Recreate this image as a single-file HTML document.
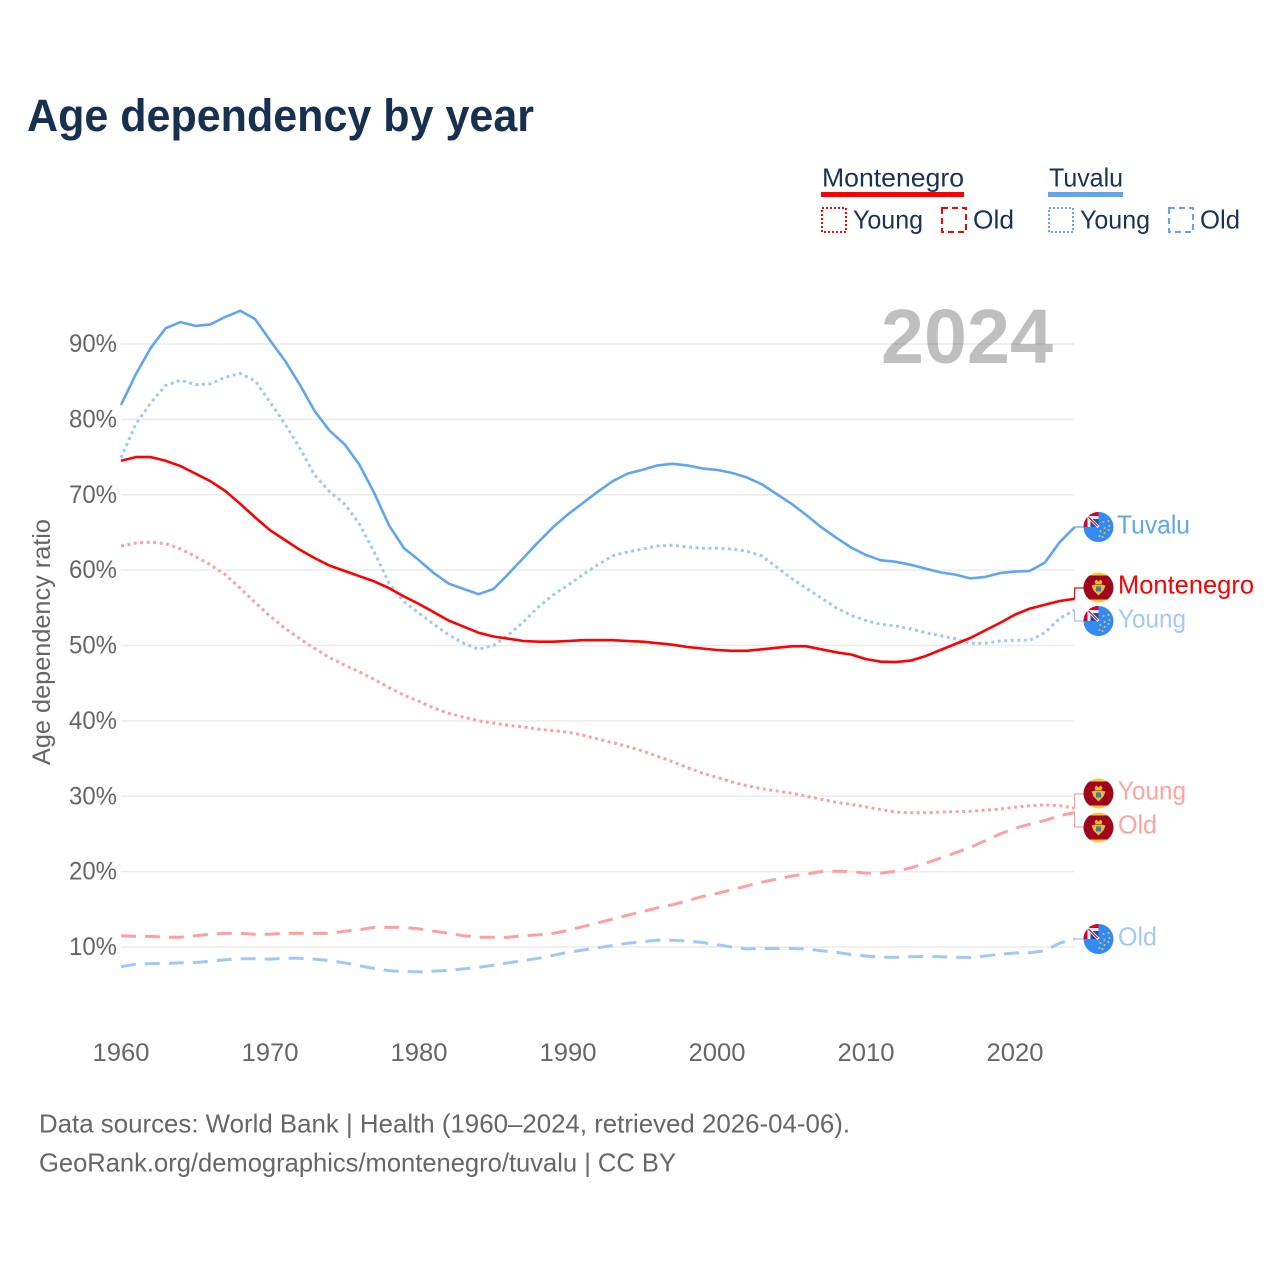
<!DOCTYPE html>
<html lang="en">
<head>
<meta charset="utf-8">
<title>Age dependency by year</title>
<style>
html,body{margin:0;padding:0;background:#fff}
svg{display:block}
text{font-family:"Liberation Sans",sans-serif}
</style>
</head>
<body>
<svg id="chart" xmlns="http://www.w3.org/2000/svg" width="1280" height="1280" viewBox="0 0 1280 1280">
  <defs>
    <clipPath id="flag-clip"><circle cx="0" cy="0" r="15"/></clipPath>
    <g id="flag-me">
      <g clip-path="url(#flag-clip)">
        <rect x="-15" y="-15" width="30" height="30" fill="#f5c83c"/>
        <rect x="-15" y="-12" width="30" height="24" fill="#a0041e"/>
        <path d="M-4 -6 L-2 -8 L0 -6 L2 -8 L4 -6 L3 -3.500 L-3 -3.500 Z" fill="#e8b93a"/>
        <path d="M-7 -2 L-3 -3 L3 -3 L7 -2 L5 3 L2 6 L0 8 L-2 6 L-5 3 Z" fill="#e8b93a"/>
        <rect x="-2.500" y="-1" width="5" height="5" fill="#3f7d9c"/>
      </g>
    </g>
    <g id="flag-tv">
      <g clip-path="url(#flag-clip)">
        <rect x="-15" y="-15" width="30" height="30" fill="#338af3"/>
        <rect x="-15" y="-15" width="15" height="15" fill="#d80027"/>
        <rect x="-11" y="-11" width="11" height="11" fill="#f0f0f0"/>
        <rect x="-8" y="-8" width="8" height="8" fill="#1f4fa3"/>
        <path d="M-11 -11 L0 0" stroke="#f0f0f0" stroke-width="3" fill="none"/>
        <path d="M-10 -10 L-1 -1" stroke="#d80027" stroke-width="1.200" fill="none"/>
        <g fill="#f4c430">
          <circle cx="5" cy="-5" r="1"/><circle cx="10" cy="-6" r="1"/><circle cx="11" cy="-1" r="1"/>
          <circle cx="6" cy="1" r="1"/><circle cx="10" cy="3" r="1"/><circle cx="2" cy="4" r="1"/>
          <circle cx="6" cy="6" r="1"/><circle cx="1" cy="9" r="1"/><circle cx="4" cy="10" r="1"/>
        </g>
      </g>
    </g>
  </defs>

  <text x="27" y="131" font-size="45" font-weight="700" fill="#17304f" textLength="507" lengthAdjust="spacingAndGlyphs">Age dependency by year</text>

  <g font-size="26" fill="#1a3355">
    <g>
      <text x="822" y="186.500" textLength="142" lengthAdjust="spacingAndGlyphs">Montenegro</text>
      <rect x="821" y="192" width="143" height="5" fill="#ff0000"/>
    </g>
    <g>
      <rect x="822" y="208" width="24" height="24" fill="none" stroke="#ff0000" stroke-width="2" stroke-dasharray="2 2"/>
      <text x="853" y="228.500" textLength="70" lengthAdjust="spacingAndGlyphs">Young</text>
    </g>
    <g>
      <rect x="942" y="208" width="24" height="24" fill="none" stroke="#ff0000" stroke-width="2" stroke-dasharray="6 4"/>
      <text x="973" y="228.500" textLength="41" lengthAdjust="spacingAndGlyphs">Old</text>
    </g>
    <g>
      <text x="1049" y="186.500" textLength="74" lengthAdjust="spacingAndGlyphs">Tuvalu</text>
      <rect x="1048" y="192" width="75" height="5" fill="#60a5ee"/>
    </g>
    <g>
      <rect x="1049" y="208" width="24" height="24" fill="none" stroke="#60a5ee" stroke-width="2" stroke-dasharray="2 2"/>
      <text x="1080" y="228.500" textLength="70" lengthAdjust="spacingAndGlyphs">Young</text>
    </g>
    <g>
      <rect x="1169" y="208" width="24" height="24" fill="none" stroke="#60a5ee" stroke-width="2" stroke-dasharray="6 4"/>
      <text x="1200" y="228.500" textLength="40" lengthAdjust="spacingAndGlyphs">Old</text>
    </g>
  </g>

  <text transform="translate(50,642) rotate(-90)" text-anchor="middle" font-size="25" fill="#666" textLength="246" lengthAdjust="spacingAndGlyphs">Age dependency ratio</text>

  <g id="grid"></g>
  <g id="y-ticks"></g>
  <g id="x-ticks"></g>

  <text x="881" y="363" font-size="77" font-weight="700" fill="#000" fill-opacity="0.25" textLength="172" lengthAdjust="spacingAndGlyphs">2024</text>

  <g id="series"></g>
  <g id="connectors"></g>

  <g font-size="26">
    <use href="#flag-tv" x="1098.500" y="527"/>
    <text x="1117" y="533.500" fill="#60a5ee" textLength="73" lengthAdjust="spacingAndGlyphs">Tuvalu</text>
    <use href="#flag-me" x="1098.500" y="587.500"/>
    <text x="1118" y="593.500" fill="#ff0000" textLength="136" lengthAdjust="spacingAndGlyphs">Montenegro</text>
    <use href="#flag-tv" x="1098.500" y="621"/>
    <text x="1118" y="627.500" fill="#a3caf4" textLength="68" lengthAdjust="spacingAndGlyphs">Young</text>
    <use href="#flag-me" x="1098.500" y="793.500"/>
    <text x="1118" y="799.500" fill="#ffa3a3" textLength="68" lengthAdjust="spacingAndGlyphs">Young</text>
    <use href="#flag-me" x="1098.500" y="827.500"/>
    <text x="1118" y="833.500" fill="#ffa3a3" textLength="39" lengthAdjust="spacingAndGlyphs">Old</text>
    <use href="#flag-tv" x="1098.500" y="939"/>
    <text x="1118" y="945.500" fill="#a3caf4" textLength="39" lengthAdjust="spacingAndGlyphs">Old</text>
  </g>

  <g font-size="26" fill="#666">
    <text x="39" y="1132.500" textLength="811" lengthAdjust="spacingAndGlyphs">Data sources: World Bank | Health (1960–2024, retrieved 2026-04-06).</text>
    <text x="39" y="1171.500" textLength="637" lengthAdjust="spacingAndGlyphs">GeoRank.org/demographics/montenegro/tuvalu | CC BY</text>
  </g>
</svg>

<script>
const firstYear = 1960;
const xTickYears = [1960, 1970, 1980, 1990, 2000, 2010, 2020];
const yTickValues = [10, 20, 30, 40, 50, 60, 70, 80, 90];
const yTickLabels = ["10%", "20%", "30%", "40%", "50%", "60%", "70%", "80%", "90%"];

const montenegroOld = [11.5,11.4,11.4,11.3,11.3,11.5,11.7,11.8,11.8,11.7,11.7,11.8,11.8,11.8,11.8,12.1,12.3,12.6,12.6,12.6,12.4,12.1,11.8,11.5,11.3,11.3,11.3,11.5,11.6,11.8,12.2,12.7,13.2,13.7,14.2,14.7,15.2,15.6,16.1,16.7,17.1,17.6,18.1,18.6,19,19.4,19.7,20,20.05,20,19.8,19.8,20.05,20.5,21.1,21.8,22.5,23.2,24.1,25,25.75,26.3,26.8,27.4,27.85];
const tuvaluOld = [7.4,7.7,7.8,7.8,7.9,7.95,8.1,8.3,8.45,8.45,8.4,8.5,8.5,8.4,8.2,7.9,7.5,7.15,6.85,6.75,6.7,6.8,6.9,7.1,7.3,7.6,7.9,8.2,8.5,8.9,9.3,9.6,9.9,10.2,10.5,10.7,10.9,10.9,10.8,10.6,10.3,10,9.75,9.8,9.8,9.8,9.75,9.5,9.3,9,8.8,8.65,8.65,8.7,8.75,8.7,8.65,8.6,8.8,9.05,9.2,9.25,9.5,10.5,11.1];
const montenegroYoung = [63.2,63.6,63.7,63.5,62.8,61.8,60.7,59.4,57.6,55.7,53.9,52.3,50.9,49.6,48.4,47.4,46.5,45.5,44.4,43.4,42.6,41.7,41,40.5,40,39.7,39.4,39.2,38.9,38.7,38.5,38.1,37.6,37.1,36.6,36,35.3,34.6,33.8,33.1,32.5,31.9,31.4,31,30.7,30.4,30,29.6,29.2,28.9,28.6,28.2,27.9,27.8,27.8,27.9,27.95,28,28.15,28.3,28.55,28.75,28.85,28.75,28.4];
const tuvaluYoung = [74.9,79.4,82.2,84.5,85.2,84.6,84.7,85.6,86.1,85.1,82.3,79.4,76.2,72.6,70.4,68.8,66.1,62.4,58.2,55.8,54.3,52.8,51.4,50.3,49.5,50,51.4,53.1,55.1,56.7,58,59.4,60.7,61.9,62.4,62.8,63.2,63.3,63.1,62.9,62.9,62.8,62.5,61.9,60.4,58.9,57.6,56.3,55,54,53.3,52.8,52.6,52.2,51.7,51.3,50.9,50.3,50.3,50.6,50.7,50.7,51.7,53.6,54.7];
const montenegroTotal = [74.5,75,75,74.5,73.8,72.8,71.8,70.5,68.8,67,65.3,64,62.7,61.6,60.6,59.9,59.2,58.5,57.6,56.5,55.5,54.4,53.3,52.5,51.7,51.2,50.9,50.6,50.5,50.5,50.6,50.7,50.7,50.7,50.6,50.5,50.3,50.1,49.8,49.6,49.4,49.3,49.3,49.5,49.7,49.9,49.9,49.5,49.1,48.8,48.2,47.85,47.8,48,48.6,49.4,50.2,51,52,53,54.1,54.9,55.4,55.9,56.2];
const tuvaluTotal = [81.9,86,89.5,92.1,92.9,92.4,92.6,93.6,94.4,93.3,90.5,87.8,84.6,81.1,78.5,76.7,74,70.2,65.9,62.9,61.3,59.6,58.2,57.5,56.8,57.5,59.5,61.6,63.7,65.7,67.4,68.9,70.4,71.8,72.8,73.3,73.9,74.1,73.9,73.5,73.3,72.9,72.3,71.4,70.1,68.8,67.3,65.7,64.3,63,62,61.3,61.1,60.7,60.2,59.7,59.4,58.9,59.1,59.6,59.8,59.9,61,63.7,65.7];

const NS = "http://www.w3.org/2000/svg";
function xScale(year) { return 121 + (year - 1960) * 14.9; }
function yScale(value) { return 344 + (90 - value) * 7.5375; }

const gridGroup = document.getElementById("grid");
const yTickGroup = document.getElementById("y-ticks");
const xTickGroup = document.getElementById("x-ticks");
const seriesGroup = document.getElementById("series");
const connectorGroup = document.getElementById("connectors");

yTickValues.forEach(function (v, i) {
  const line = document.createElementNS(NS, "line");
  
  
  line.setAttribute("x1", 121);
  line.setAttribute("x2", 1074);
  line.setAttribute("y1", yScale(v));
  line.setAttribute("y2", yScale(v));
  line.setAttribute("stroke", "#ececec");
  line.setAttribute("stroke-width", "1.5");
  gridGroup.appendChild(line);

  const label = document.createElementNS(NS, "text");
  
  
  label.setAttribute("x", 117);
  label.setAttribute("y", yScale(v) + 8);
  label.setAttribute("text-anchor", "end");
  label.setAttribute("font-size", "25");
  label.setAttribute("fill", "#666");
  label.setAttribute("textLength", "48");
  label.setAttribute("lengthAdjust", "spacingAndGlyphs");
  label.textContent = yTickLabels[i];
  yTickGroup.appendChild(label);
});

xTickYears.forEach(function (year) {
  const label = document.createElementNS(NS, "text");
  
  
  label.setAttribute("x", xScale(year));
  label.setAttribute("y", 1061);
  label.setAttribute("text-anchor", "middle");
  label.setAttribute("font-size", "25");
  label.setAttribute("fill", "#666");
  label.setAttribute("textLength", "57");
  label.setAttribute("lengthAdjust", "spacingAndGlyphs");
  label.textContent = String(year);
  xTickGroup.appendChild(label);
});

function addSeries(values, name, color, width, dash) {
  const pts = values.map(function (v, i) {
    return xScale(firstYear + i).toFixed(1) + "," + yScale(v).toFixed(1);
  }).join(" ");
  const line = document.createElementNS(NS, "polyline");
  
  
  line.setAttribute("points", pts);
  line.setAttribute("fill", "none");
  line.setAttribute("stroke", color);
  line.setAttribute("stroke-width", width);
  line.setAttribute("stroke-linejoin", "round");
  if (dash) { line.setAttribute("stroke-dasharray", dash); }
  seriesGroup.appendChild(line);
}

function addConnector(values, labelY, name, color) {
  const endX = xScale(firstYear + values.length - 1);
  const endY = yScale(values[values.length - 1]);
  const path = document.createElementNS(NS, "path");
  
  
  path.setAttribute("d", "M" + endX + " " + endY.toFixed(1) + " V" + labelY + " H1086");
  path.setAttribute("fill", "none");
  path.setAttribute("stroke", color);
  path.setAttribute("stroke-width", "1.2");
  connectorGroup.appendChild(path);
}

addSeries(tuvaluOld, "tuvalu-old-line", "#a0c8f3", 3, "15 9");
addSeries(montenegroOld, "montenegro-old-line", "#ffa0a0", 3, "15 9");
addSeries(montenegroYoung, "montenegro-young-line", "#ffa0a0", 3, "3 3.500");
addSeries(tuvaluYoung, "tuvalu-young-line", "#a0c8f3", 3, "3 3.500");
addSeries(tuvaluTotal, "tuvalu-total-line", "#60a5ee", 2.6, "");
addSeries(montenegroTotal, "montenegro-total-line", "#ff0000", 2.6, "");

addConnector(tuvaluTotal, 527, "tuvalu-connector", "#60a5ee");
addConnector(montenegroTotal, 588, "montenegro-connector", "#ff0000");
addConnector(tuvaluYoung, 621, "tuvalu-young-connector", "#a0c8f3");
addConnector(montenegroYoung, 794, "montenegro-young-connector", "#ffa0a0");
addConnector(montenegroOld, 827, "montenegro-old-connector", "#ffa0a0");
addConnector(tuvaluOld, 939, "tuvalu-old-connector", "#a0c8f3");
</script>
</body>
</html>
